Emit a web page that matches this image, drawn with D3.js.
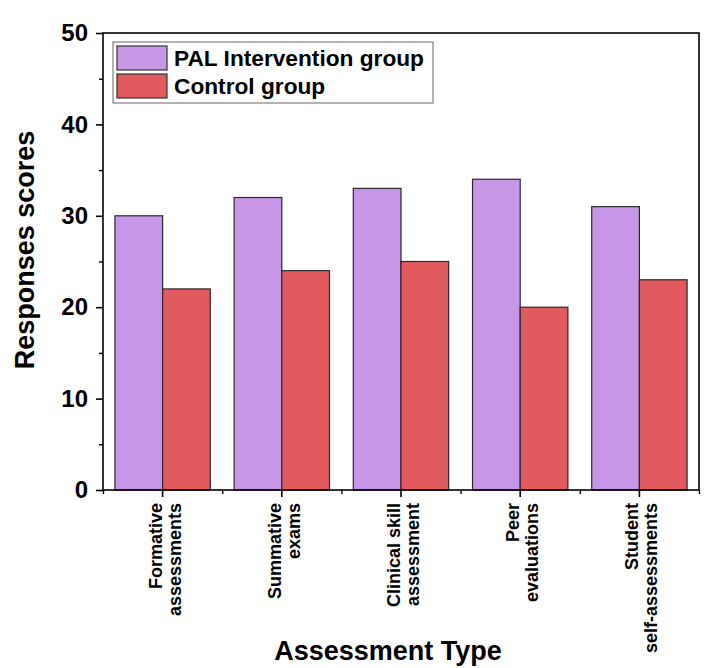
<!DOCTYPE html>
<html>
<head>
<meta charset="utf-8">
<script src="https://cdn.jsdelivr.net/npm/d3@7"></script>
<style>
  html, body { margin: 0; padding: 0; background: #fff; }
  svg { display: block; font-family: "Liberation Sans", Arial, sans-serif; }
</style>
</head>
<body>
<svg id="chart" width="720" height="668"></svg>
<script>
const categories = [
  ["Formative", "assessments"],
  ["Summative", "exams"],
  ["Clinical skill", "assessment"],
  ["Peer", "evaluations"],
  ["Student", "self-assessments"]
];
const seriesNames = ["PAL Intervention group", "Control group"];
const palValues = [30, 32, 33, 34, 31];
const controlValues = [22, 24, 25, 20, 23];
const yTicks = [0, 10, 20, 30, 40, 50];
const yMinorTicks = [5, 15, 25, 35, 45];
const colors = ["#C896E6", "#E05A5E"];

const svg = d3.select("#chart");
const L = 103, R = 699, T = 33, B = 490;

const keys = categories.map((c, i) => "c" + i);
const x = d3.scaleBand().domain(keys).range([L, R]).paddingInner(0.2).paddingOuter(0.1);
const sub = d3.scaleBand().domain([0, 1]).range([0, x.bandwidth()]);
const y = d3.scaleLinear().domain([0, 50]).range([B, T]);

const series = [palValues, controlValues];

// bars
series.forEach((vals, s) => {
  svg.append("g").selectAll("rect").data(vals).join("rect")
    .attr("x", (d, i) => x(keys[i]) + sub(s))
    .attr("y", d => y(d))
    .attr("width", sub.bandwidth())
    .attr("height", d => y(0) - y(d))
    .attr("fill", colors[s])
    .attr("stroke", "#2a2a2a")
    .attr("stroke-width", 1.2);
});

// frame
svg.append("rect").attr("x", L).attr("y", T).attr("width", R - L).attr("height", B - T)
  .attr("fill", "none").attr("stroke", "#000").attr("stroke-width", 1.6);

// y axis
const yAxis = svg.append("g").attr("transform", `translate(${L},0)`)
  .call(d3.axisLeft(y).tickValues(yTicks).tickSize(7).tickPadding(8).tickFormat(d3.format("d")));
yAxis.select(".domain").remove();
yAxis.selectAll("line").attr("stroke", "#000").attr("stroke-width", 1.6);
yAxis.selectAll("text").attr("font-size", 24).attr("font-weight", "bold").attr("fill", "#000");
const yMinor = svg.append("g").attr("transform", `translate(${L},0)`)
  .call(d3.axisLeft(y).tickValues(yMinorTicks).tickSize(4).tickFormat(""));
yMinor.select(".domain").remove();
yMinor.selectAll("line").attr("stroke", "#000").attr("stroke-width", 1.4);

// x axis major ticks at band centers
const xAxis = svg.append("g").attr("transform", `translate(0,${B})`)
  .call(d3.axisBottom(x).tickSize(7).tickFormat(""));
xAxis.select(".domain").remove();
xAxis.selectAll("line").attr("stroke", "#000").attr("stroke-width", 1.6);
// minor ticks at band boundaries
const bounds = [L].concat(keys.map(k => x(k) + x.bandwidth() + x.step() * x.paddingInner() / 2));
bounds[bounds.length - 1] = R;
const xb = d3.scaleLinear().domain([L, R]).range([L, R]);
const xMinor = svg.append("g").attr("transform", `translate(0,${B})`)
  .call(d3.axisBottom(xb).tickValues(bounds).tickSize(4).tickFormat(""));
xMinor.select(".domain").remove();
xMinor.selectAll("line").attr("stroke", "#000").attr("stroke-width", 1.4);

// x category labels (rotated, two lines)
categories.forEach((lines, i) => {
  const cx = x(keys[i]) + x.bandwidth() / 2;
  const g = svg.append("g").attr("transform", `translate(${cx},503) rotate(-90)`);
  lines.forEach((ln, j) => {
    g.append("text").attr("x", 0).attr("y", -1 + j * 19)
      .attr("text-anchor", "end")
      .attr("font-size", 18).attr("font-weight", "bold").attr("fill", "#000")
      .text(ln);
  });
});

// axis titles
svg.append("text").attr("x", 388).attr("y", 660).attr("text-anchor", "middle")
  .attr("font-size", 27).attr("font-weight", "bold").attr("fill", "#000").text("Assessment Type");
svg.append("text").attr("transform", "translate(34,250) rotate(-90)").attr("text-anchor", "middle")
  .attr("font-size", 27).attr("font-weight", "bold").attr("fill", "#000").text("Responses scores");

// legend
const lg = svg.append("g");
lg.append("rect").attr("x", 113).attr("y", 42).attr("width", 320).attr("height", 61)
  .attr("fill", "#fff").attr("stroke", "#666").attr("stroke-width", 1);
seriesNames.forEach((name, i) => {
  const yy = 46 + i * 28;
  lg.append("rect").attr("x", 117).attr("y", yy).attr("width", 50).attr("height", 24)
    .attr("fill", colors[i]).attr("stroke", "#333").attr("stroke-width", 1.2);
  lg.append("text").attr("x", 174).attr("y", yy + 20)
    .attr("font-size", 22.7).attr("font-weight", "bold").attr("fill", "#000").text(name);
});
</script>
</body>
</html>
